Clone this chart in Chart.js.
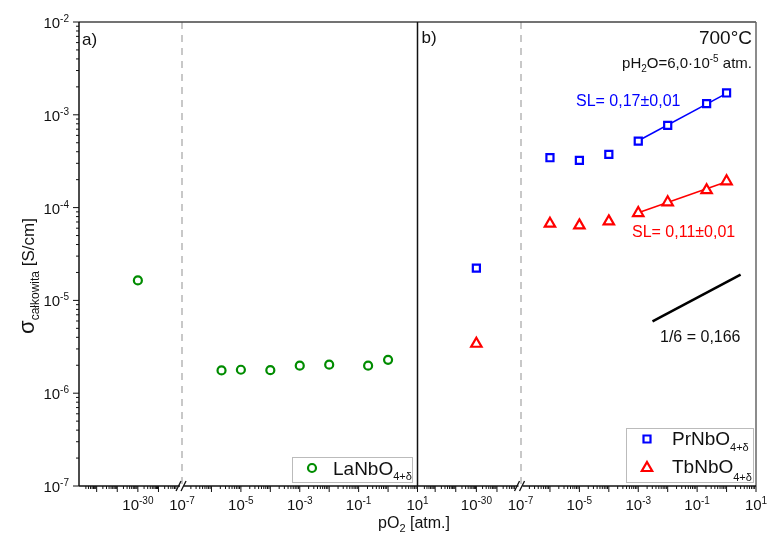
<!DOCTYPE html>
<html>
<head>
<meta charset="utf-8">
<script src="https://cdn.jsdelivr.net/npm/chart.js@4.4.1/dist/chart.umd.min.js"></script>
<style>html,body{margin:0;background:#fff}</style>
</head>
<body>
<canvas id="chart" width="768" height="533"></canvas>
<script>
const FONT = '"Liberation Sans", Arial, sans-serif';

// pO2 [atm.] -> sigma [S/cm], 700 C
const laPO2 = [1e-30, 2.2e-6, 1e-5, 1e-4, 1e-3, 1e-2, 0.21, 1];
const laSigma = [1.64e-5, 1.76e-6, 1.79e-6, 1.77e-6, 1.98e-6, 2.03e-6, 1.98e-6, 2.29e-6];

const prPO2 = [1e-30, 1e-6, 1e-5, 1e-4, 1e-3, 1e-2, 0.21, 1];
const prSigma = [2.23e-5, 3.45e-4, 3.23e-4, 3.75e-4, 5.21e-4, 7.69e-4, 1.32e-3, 1.72e-3];
const tbSigma = [3.41e-6, 6.71e-5, 6.43e-5, 7.1e-5, 8.73e-5, 1.14e-4, 1.54e-4, 1.92e-4];

// fitted lines (end points)
const fitPO2 = [1e-3, 1];
const prFit = [5.25e-4, 1.7e-3];
const tbFit = [8.8e-5, 1.9e-4];

// 1/6 reference slope
const refPO2 = [3.05e-3, 3.0];
const refSigma = [5.93e-6, 1.9e-5];

const yTicks = [-7, -6, -5, -4, -3, -2];
const xTickLabels = [-30, -7, -5, -3, -1, 1];

// broken axis: each panel is 11.5 units, break at 3.5 (= 1e-7)
const PANEL = 11.5, BREAK = 3.5, LEFT_AT = 2, LEFT_DEC = 0.7;

function toU(p, panel) {
  const l = Math.log10(p);
  const u = l >= -7 ? BREAK + (l + 7) : LEFT_AT + (l + 30) * LEFT_DEC;
  return panel * PANEL + u;
}

function points(xs, ys, panel) {
  return xs.map((p, i) => ({ x: toU(p, panel), y: ys[i] }));
}

function part(t, size, dy) {
  return { t, size, dy: dy || 0 };
}

function drawRich(ctx, parts, x, y, align) {
  let w = 0;
  parts.forEach((p) => {
    ctx.font = p.size + "px " + FONT;
    p.w = ctx.measureText(p.t).width;
    w += p.w;
  });
  let cx = align === "right" ? x - w : align === "center" ? x - w / 2 : x;
  parts.forEach((p) => {
    ctx.font = p.size + "px " + FONT;
    ctx.fillText(p.t, cx, y + p.dy);
    cx += p.w;
  });
}

function pow10(e) {
  return [part("10", 15), part(String(e), 10, -6)];
}

function line(ctx, x1, y1, x2, y2) {
  ctx.beginPath();
  ctx.moveTo(x1, y1);
  ctx.lineTo(x2, y2);
  ctx.stroke();
}

function marker(ctx, style, x, y, color) {
  ctx.save();
  ctx.strokeStyle = color;
  ctx.fillStyle = "#fff";
  ctx.lineWidth = 2.2;
  ctx.beginPath();
  if (style === "circle") {
    ctx.arc(x, y, 4, 0, Math.PI * 2);
  } else if (style === "rect") {
    ctx.rect(x - 3.5, y - 3.5, 7, 7);
  } else {
    ctx.moveTo(x, y - 6);
    ctx.lineTo(x + 5.2, y + 3);
    ctx.lineTo(x - 5.2, y + 3);
    ctx.closePath();
  }
  ctx.fill();
  ctx.stroke();
  ctx.restore();
}

const gridPlugin = {
  id: "brokenGrid",
  beforeDatasetsDraw(chart) {
    const { ctx, chartArea, scales } = chart;
    ctx.save();
    ctx.strokeStyle = "#c8c8c8";
    ctx.lineWidth = 2;
    ctx.setLineDash([7, 6]);
    [0, 1].forEach((panel) => {
      const x = Math.round(scales.x.getPixelForValue(panel * PANEL + BREAK));
      line(ctx, x, chartArea.top, x, chartArea.bottom);
    });
    ctx.restore();
  },
  afterDraw(chart) {
    const { ctx, chartArea, scales } = chart;
    const { left, right, top, bottom } = chartArea;
    const xs = scales.x, ys = scales.y;
    const mid = xs.getPixelForValue(PANEL);
    ctx.save();

    // frame
    ctx.lineWidth = 1.5;
    ctx.strokeStyle = "#444";
    line(ctx, left, top, right, top);
    ctx.strokeStyle = "#666";
    line(ctx, right, top, right, bottom);
    ctx.strokeStyle = "#111";
    line(ctx, left, top, left, bottom);
    line(ctx, mid, top, mid, bottom);
    line(ctx, left, bottom, right, bottom);

    // y ticks
    ctx.lineWidth = 1;
    yTicks.forEach((e) => {
      const y = ys.getPixelForValue(Math.pow(10, e));
      line(ctx, left, y, left - 6, y);
      if (e < -2) {
        for (let k = 2; k <= 9; k++) {
          const ym = ys.getPixelForValue(k * Math.pow(10, e));
          line(ctx, left, ym, left - 3, ym);
        }
      }
    });

    // x ticks
    [0, 1].forEach((panel) => {
      const base = panel * PANEL;
      for (let e = -7; e <= 1; e++) {
        const x = xs.getPixelForValue(base + BREAK + e + 7);
        if (e > -7) line(ctx, x, bottom, x, bottom + 6);
        if (e < 1) {
          for (let k = 2; k <= 9; k++) {
            const xm = xs.getPixelForValue(base + BREAK + e + 7 + Math.log10(k));
            line(ctx, xm, bottom, xm, bottom + 3);
          }
        }
      }
      for (let e = -33; e <= -28; e++) {
        for (let k = 1; k <= 9; k++) {
          const u = LEFT_AT + (e + 30 + Math.log10(k)) * LEFT_DEC;
          if (u < 0.15 || u > BREAK - 0.2) continue;
          const x = xs.getPixelForValue(base + u);
          line(ctx, x, bottom, x, bottom + (k === 1 ? 6 : 3));
        }
      }
      // break mark
      const bx = xs.getPixelForValue(base + BREAK);
      ctx.fillStyle = "#fff";
      ctx.fillRect(bx - 2, bottom - 2, 4, 4);
      ctx.lineWidth = 1.3;
      line(ctx, bx - 6, bottom + 5, bx - 1, bottom - 5);
      line(ctx, bx - 1, bottom + 5, bx + 4, bottom - 5);
      ctx.lineWidth = 1;
    });

    // tick labels
    ctx.fillStyle = "#111";
    ctx.textBaseline = "alphabetic";
    yTicks.forEach((e) => {
      const y = ys.getPixelForValue(Math.pow(10, e));
      drawRich(ctx, pow10(e), left - 10, y + 6, "right");
    });
    [0, 1].forEach((panel) => {
      xTickLabels.forEach((e) => {
        const x = xs.getPixelForValue(toU(Math.pow(10, e), panel));
        drawRich(ctx, pow10(e), x, bottom + 24, "center");
      });
    });

    // axis titles
    drawRich(ctx, [part("pO", 16), part("2", 11, 4), part(" [atm.]", 16)], 414, 528, "center");
    ctx.save();
    ctx.translate(34, 276);
    ctx.rotate(-Math.PI / 2);
    drawRich(ctx, [part("\u03c3", 22), part("ca\u0142kowita", 12, 5), part(" [S/cm]", 17)], 0, 0, "center");
    ctx.restore();

    // annotations
    drawRich(ctx, [part("a)", 17)], left + 3, top + 23, "left");
    drawRich(ctx, [part("b)", 17)], mid + 4, top + 21, "left");
    drawRich(ctx, [part("700\u00b0C", 19)], right - 4, 44, "right");
    drawRich(ctx, [part("pH", 15), part("2", 10, 4), part("O=6,0\u00b710", 15), part("-5", 10, -6), part(" atm.", 15)], right - 4, 68, "right");
    ctx.fillStyle = "#0000ff";
    drawRich(ctx, [part("SL= 0,17\u00b10,01", 16)], 576, 106, "left");
    ctx.fillStyle = "#ff0000";
    drawRich(ctx, [part("SL= 0,11\u00b10,01", 16)], 632, 237, "left");
    ctx.fillStyle = "#111";
    drawRich(ctx, [part("1/6 = 0,166", 16)], 660, 342, "left");

    // legends
    ctx.lineWidth = 1;
    ctx.strokeStyle = "#bbb";
    ctx.fillStyle = "#fff";
    ctx.fillRect(292, 457, 120, 25);
    ctx.strokeRect(292.5, 457.5, 120, 25);
    ctx.fillRect(626, 428, 127, 54);
    ctx.strokeRect(626.5, 428.5, 127, 54);
    marker(ctx, "circle", 312, 468, "#008c00");
    marker(ctx, "rect", 647, 439, "#0000ff");
    marker(ctx, "triangle", 647, 468, "#ff0000");
    ctx.fillStyle = "#111";
    drawRich(ctx, [part("LaNbO", 19), part("4+\u03b4", 11, 5)], 333, 475, "left");
    drawRich(ctx, [part("PrNbO", 19), part("4+\u03b4", 11, 6)], 672, 445, "left");
    drawRich(ctx, [part("TbNbO", 19), part("4+\u03b4", 11, 8)], 672, 473, "left");

    ctx.restore();
  }
};

const scatter = (label, data, style, color, radius) => ({
  label,
  data,
  showLine: false,
  pointStyle: style,
  pointRadius: radius,
  pointBorderWidth: 2.2,
  borderColor: color,
  backgroundColor: "#fff",
  clip: false
});

const fit = (data, color, width) => ({
  data,
  showLine: true,
  pointRadius: 0,
  borderColor: color,
  borderWidth: width,
  clip: false
});

new Chart(document.getElementById("chart"), {
  type: "scatter",
  data: {
    datasets: [
      scatter("LaNbO4", points(laPO2, laSigma, 0), "circle", "#008c00", 4),
      scatter("PrNbO4", points(prPO2, prSigma, 1), "rect", "#0000ff", 5),
      scatter("TbNbO4", points(prPO2, tbSigma, 1), "triangle", "#ff0000", 6),
      fit(points(fitPO2, prFit, 1), "#0000ff", 1.5),
      fit(points(fitPO2, tbFit, 1), "#ff0000", 1.5),
      fit(points(refPO2, refSigma, 1), "#000", 2.5)
    ]
  },
  options: {
    responsive: false,
    animation: false,
    layout: { padding: { left: 79, right: 12, top: 22, bottom: 47 } },
    plugins: { legend: { display: false }, tooltip: { enabled: false } },
    scales: {
      x: { type: "linear", min: 0, max: 2 * PANEL, display: false },
      y: { type: "logarithmic", min: 1e-7, max: 1e-2, display: false }
    }
  },
  plugins: [gridPlugin]
});
</script>
</body>
</html>
